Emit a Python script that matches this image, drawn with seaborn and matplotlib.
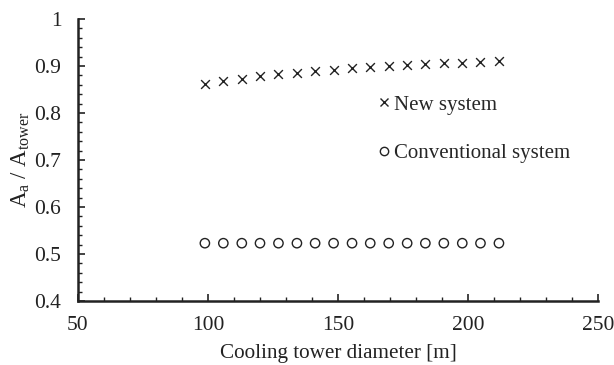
import numpy as np
import pandas as pd
import seaborn as sns
import matplotlib
matplotlib.use("Agg")
import matplotlib.pyplot as plt
from matplotlib.ticker import MultipleLocator, FuncFormatter
from matplotlib.lines import Line2D

diameter = [98.8, 105.9, 113.0, 120.0, 127.1, 134.2, 141.2, 148.3, 155.4,
            162.4, 169.5, 176.6, 183.6, 190.7, 197.8, 204.8, 211.9]
new_system = [0.862, 0.868, 0.873, 0.878, 0.882, 0.886, 0.889, 0.892, 0.895,
              0.897, 0.900, 0.902, 0.904, 0.906, 0.907, 0.909, 0.910]
conventional = [0.523] * 17
series_names = ["New system", "Conventional system"]

sns.set_style("ticks")
plt.rcParams["font.family"] = ["Liberation Serif", "DejaVu Serif"]
plt.rcParams["mathtext.fontset"] = "custom"
plt.rcParams["mathtext.rm"] = "Liberation Serif"
plt.rcParams["mathtext.it"] = "Liberation Serif:italic"

C = "#222222"
fig = plt.figure(figsize=(6.14, 3.65), dpi=100)
ax = fig.add_axes([78/614, 1 - 301/365, 520/614, 282/365])

sns.scatterplot(x=diameter, y=new_system, marker="x", color=C, s=40,
                linewidth=1.0, ax=ax, legend=False)
sns.scatterplot(x=diameter, y=conventional, marker="o", facecolor="none",
                edgecolor=C, s=45, linewidth=1.0, ax=ax, legend=False)

ax.set_xlim(50, 250)
ax.set_ylim(0.4, 1.0)
ax.xaxis.set_major_locator(MultipleLocator(50))
ax.xaxis.set_minor_locator(MultipleLocator(10))
ax.yaxis.set_major_locator(MultipleLocator(0.1))
ax.yaxis.set_minor_locator(MultipleLocator(0.02))
ax.yaxis.set_major_formatter(FuncFormatter(lambda v, p: f"{round(v, 2):g}"))
ax.tick_params(which="major", direction="in", length=5, width=1.2,
               labelsize=15.5, colors=C)
ax.tick_params(which="minor", direction="in", length=3, width=1.0, colors=C)
ax.tick_params(axis="x", pad=11)
ax.tick_params(axis="y", pad=12)
for side in ["top", "right"]:
    ax.spines[side].set_visible(False)
for side in ["left", "bottom"]:
    ax.spines[side].set_linewidth(1.8)
    ax.spines[side].set_color(C)

ax.set_xlabel("Cooling tower diameter [m]", fontsize=15.2, color=C, labelpad=6)
ax.set_ylabel(r"$\mathrm{A_a\ /\ A_{tower}}$", fontsize=16.5, color=C, labelpad=2)

handles = [Line2D([], [], ls="none", marker="x", color=C, ms=6, mew=1.0),
           Line2D([], [], ls="none", marker="o", mfc="none", mec=C, ms=6, mew=1.0)]
ax.legend(handles, series_names, loc="upper left", bbox_to_anchor=(0.56, 0.76),
          frameon=False, fontsize=15, handlelength=0.6, handletextpad=0.2,
          labelspacing=1.4, borderaxespad=0)

fig.savefig("out.png", dpi=100)
